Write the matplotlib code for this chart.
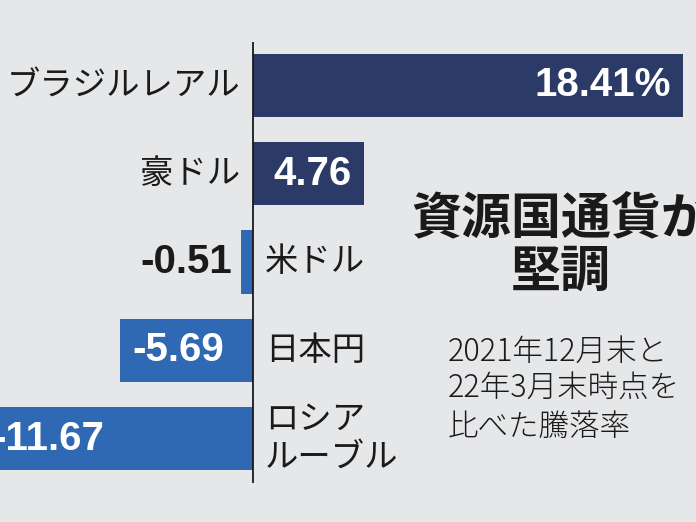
import matplotlib
matplotlib.use("Agg")
import matplotlib.pyplot as plt

plt.rcParams["font.family"] = ["Noto Sans CJK JP", "DejaVu Sans"]

currencies = ["ブラジルレアル", "豪ドル", "米ドル", "日本円", "ロシア\nルーブル"]
changes = [18.41, 4.76, -0.51, -5.69, -11.67]
value_labels = ["18.41%", "4.76", "-0.51", "-5.69", "-11.67"]
title = "資源国通貨が\n堅調"
note = "2021年12月末と\n22年3月末時点を\n比べた騰落率"

BG = "#e6e7e9"
NAVY = "#2b3a66"
BLUE = "#2f68b3"
INK = "#1a1a1a"

W, H = 696, 522
fig = plt.figure(figsize=(W / 100, H / 100), dpi=100, facecolor=BG)
ax = fig.add_axes([0, 0, 1, 1])
ax.set_facecolor(BG)

# pixel geometry of the original: zero line at x=253, 23.33 px per point
px_per_unit = 23.33
zero_px = 253
ax.set_xlim(-zero_px / px_per_unit, (W - zero_px) / px_per_unit)
first_px, step_px = 85.5, 88.25
ax.set_ylim((H - first_px) / step_px, -first_px / step_px)
ax.axis("off")

ypos = list(range(len(changes)))
colors = [NAVY if v > 0 else BLUE for v in changes]
ax.barh(ypos, changes, height=0.715, color=colors, zorder=2)
ax.vlines(0, -0.49, 4.5, color=INK, lw=1.3, zorder=3)

u = 1 / px_per_unit
num_font = dict(family="Liberation Sans", fontsize=29, fontweight="bold")
for y, v, name, lab in zip(ypos, changes, currencies, value_labels):
    if v > 0:
        ax.text(-13 * u, y, name, ha="right", va="center", fontsize=24, color=INK)
        ax.text(v - 12 * u, y, lab, ha="right", va="center", color="white", **num_font)
    else:
        ax.text(12 * u, y, name, ha="left", va="center", fontsize=24, color=INK,
                linespacing=1.1)
        if abs(v) * px_per_unit > 60:
            ax.text(v + 12 * u, y, lab, ha="left", va="center", color="white", **num_font)
        else:
            ax.text(v - 9 * u, y, lab, ha="right", va="center", color=INK, **num_font)

fig.text(561 / W, 1 - 246 / H, title, ha="center", va="center", fontsize=36,
         fontweight="bold", color=INK, linespacing=1.05, multialignment="center")
fig.text(448 / W, 1 - 389 / H, note, ha="left", va="center", fontsize=22,
         fontweight="light", color=INK, linespacing=1.22)

fig.savefig("out.png", dpi=100, facecolor=BG)
